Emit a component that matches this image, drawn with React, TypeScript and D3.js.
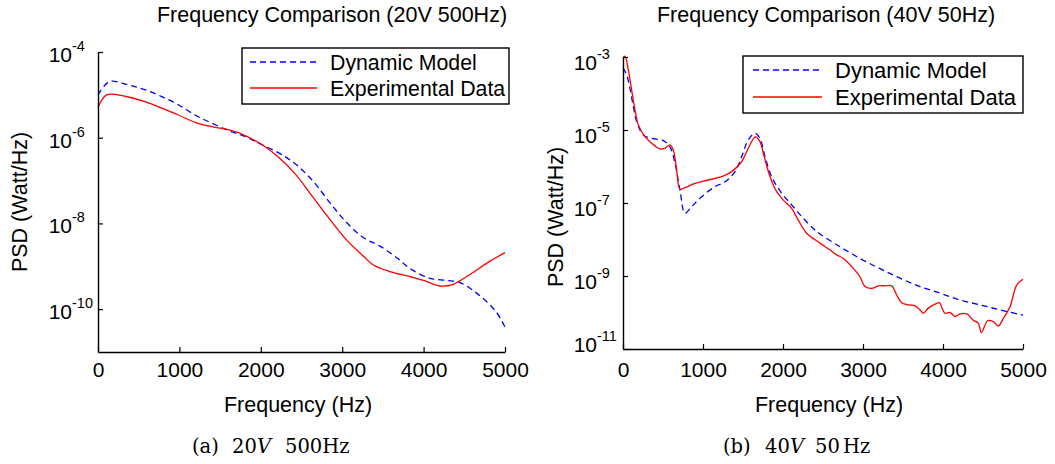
import React, { useEffect, useRef } from "react";
import * as d3 from "d3";

// ---------- data (frequency in Hz, PSD as log10 of Watt/Hz) ----------
const freqTicks = [0, 1000, 2000, 3000, 4000, 5000];
const leftYTickExp = [-4, -6, -8, -10];
const rightYTickExp = [-3, -5, -7, -9, -11];

const leftModelFreq = [0, 140, 372, 577, 783, 986, 1192, 1397, 1600, 1806, 2011, 2225, 2430, 2645, 2850, 3055, 3259, 3464, 3670, 3840, 4079, 4284, 4447, 4693, 4898, 5000];
const leftModelLog = [-5.0, -4.69, -4.77, -4.88, -5.04, -5.23, -5.47, -5.66, -5.83, -5.97, -6.16, -6.36, -6.62, -7.02, -7.52, -7.98, -8.33, -8.53, -8.8, -9.06, -9.28, -9.33, -9.38, -9.69, -10.08, -10.42];

const leftExpFreq = [0, 107, 372, 577, 783, 986, 1192, 1397, 1600, 1724, 2011, 2215, 2430, 2645, 2850, 3070, 3259, 3382, 3600, 3850, 4000, 4201, 4365, 4570, 4816, 5000];
const leftExpLog = [-5.29, -5.0, -5.05, -5.16, -5.31, -5.47, -5.64, -5.74, -5.81, -5.88, -6.16, -6.45, -6.86, -7.4, -7.91, -8.42, -8.76, -8.97, -9.13, -9.25, -9.33, -9.46, -9.42, -9.19, -8.88, -8.68];

const rightModelFreq = [0, 46, 87, 129, 171, 254, 358, 504, 587, 650, 712, 775, 858, 983, 1150, 1275, 1400, 1483, 1566, 1650, 1712, 1775, 1858, 1983, 2108, 2233, 2379, 2463, 2713, 2963, 3213, 3463, 3713, 3963, 4213, 4463, 4713, 5000];
const rightModelLog = [-3.3, -3.49, -3.86, -4.36, -4.77, -5.14, -5.23, -5.29, -5.46, -5.91, -6.64, -7.28, -7.1, -6.83, -6.55, -6.42, -6.14, -5.73, -5.27, -5.09, -5.23, -5.73, -6.28, -6.73, -7.05, -7.37, -7.7, -7.85, -8.2, -8.52, -8.8, -9.06, -9.29, -9.47, -9.66, -9.79, -9.93, -10.07];

const rightExpFreq = [0, 25, 67, 108, 150, 192, 275, 358, 462, 525, 587, 629, 671, 712, 775, 900, 1066, 1233, 1358, 1483, 1566, 1655, 1712, 1754, 1838, 1921, 2004, 2108, 2191, 2296, 2462, 2588, 2671, 2754, 2879, 2963, 3025, 3108, 3192, 3275, 3358, 3421, 3483, 3567, 3650, 3713, 3754, 3817, 3921, 3954, 4025, 4088, 4150, 4213, 4296, 4379, 4442, 4480, 4560, 4629, 4692, 4754, 4838, 4921, 5000];
const rightExpLog = [-3.02, -2.98, -3.36, -3.9, -4.45, -4.86, -5.18, -5.36, -5.52, -5.5, -5.41, -5.55, -6.1, -6.62, -6.58, -6.46, -6.37, -6.28, -6.14, -5.87, -5.5, -5.19, -5.32, -5.64, -6.28, -6.69, -6.92, -7.15, -7.47, -7.83, -8.1, -8.29, -8.42, -8.52, -8.79, -9.02, -9.29, -9.34, -9.27, -9.27, -9.27, -9.52, -9.73, -9.79, -9.82, -9.93, -10.02, -9.88, -9.75, -9.73, -10.02, -10.0, -10.11, -10.04, -10.04, -10.21, -10.3, -10.55, -10.22, -10.25, -10.37, -10.16, -9.84, -9.25, -9.09];

const seriesNames = ["Dynamic Model", "Experimental Data"];
const titles = ["Frequency Comparison (20V 500Hz)", "Frequency Comparison (40V 50Hz)"];

const SANS = "'Liberation Sans', Arial, Helvetica, sans-serif";
const SERIF = "'DejaVu Serif', serif";
const BLUE = "#0000ff";
const RED = "#ff0000";

type Panel = {
  x0: number; x1: number; yTop: number; yBot: number;
  expMin: number; expMax: number; yTicks: number[];
  mF: number[]; mV: number[]; eF: number[]; eV: number[];
  title: string; titleX: number; titleY: number;
  xPad: number; labOff: number; bottomLabOff: number;
  yLabelX: number; yLabelY: number; xLabelX: number;
  legend: { x: number; y: number; w: number; h: number; lx0: number; lx1: number; tx: number; r1: number; r2: number; fs: number };
};

function drawPanel(svg: d3.Selection<SVGSVGElement, unknown, null, undefined>, p: Panel) {
  const x = d3.scaleLinear().domain([0, 5000]).range([p.x0, p.x1]);
  const y = d3.scaleLog().domain([Math.pow(10, p.expMin), Math.pow(10, p.expMax)]).range([p.yBot, p.yTop]);
  const g = svg.append("g");
  const line = d3
    .line<[number, number]>()
    .x((d) => x(d[0]))
    .y((d) => y(Math.pow(10, d[1])))
    .curve(d3.curveCatmullRom.alpha(0.5));

  g.append("path")
    .attr("d", line(d3.zip(p.mF, p.mV) as [number, number][]) || "")
    .attr("fill", "none").attr("stroke", BLUE).attr("stroke-width", 1.3)
    .attr("stroke-dasharray", "6,4");
  g.append("path")
    .attr("d", line(d3.zip(p.eF, p.eV) as [number, number][]) || "")
    .attr("fill", "none").attr("stroke", RED).attr("stroke-width", 1.3);

  // x axis
  const xa = g.append("g")
    .attr("transform", `translate(0,${p.yBot})`)
    .call(d3.axisBottom(x).tickValues(freqTicks).tickSizeInner(-5).tickSizeOuter(0).tickPadding(p.xPad).tickFormat(d3.format("d")));
  xa.select(".domain").attr("stroke", "#000").attr("stroke-width", 1.4);
  xa.selectAll(".tick line").attr("stroke", "#000").attr("stroke-width", 1.2);
  xa.selectAll(".tick text").attr("font-family", SANS).attr("font-size", 21).attr("fill", "#000");

  // y axis
  const ya = g.append("g")
    .attr("transform", `translate(${p.x0},0)`)
    .call(d3.axisLeft(y).tickValues(p.yTicks.map((e) => Math.pow(10, e))).tickSizeInner(-5).tickSizeOuter(0).tickFormat(() => ""));
  ya.select(".domain").attr("stroke", "#000").attr("stroke-width", 1.4);
  ya.selectAll(".tick line").attr("stroke", "#000").attr("stroke-width", 1.2);

  p.yTicks.forEach((e) => {
    const ty = y(Math.pow(10, e));
    const off = e === p.expMin ? p.bottomLabOff : p.labOff;
    const bx = p.x0 - 26;
    g.append("text").attr("x", bx).attr("y", ty + off).attr("text-anchor", "end")
      .attr("font-family", SANS).attr("font-size", 21).text("10");
    g.append("text").attr("x", bx).attr("y", ty + off - 11).attr("text-anchor", "start")
      .attr("font-family", SANS).attr("font-size", 14.5).text(String(e));
  });

  // labels
  g.append("text").attr("x", p.titleX).attr("y", p.titleY).attr("text-anchor", "middle")
    .attr("font-family", SANS).attr("font-size", 21.5).text(p.title);
  g.append("text").attr("x", p.xLabelX).attr("y", 412).attr("text-anchor", "middle")
    .attr("font-family", SANS).attr("font-size", 21.5).text("Frequency (Hz)");
  g.append("text")
    .attr("transform", `translate(${p.yLabelX},${p.yLabelY}) rotate(-90)`)
    .attr("text-anchor", "middle")
    .attr("font-family", SANS).attr("font-size", 21.5).text("PSD (Watt/Hz)");

  // legend
  const L = p.legend;
  const lg = g.append("g");
  lg.append("rect").attr("x", L.x).attr("y", L.y).attr("width", L.w).attr("height", L.h)
    .attr("fill", "#fff").attr("stroke", "#000").attr("stroke-width", 1.4);
  lg.append("line").attr("x1", L.lx0).attr("x2", L.lx1).attr("y1", L.r1).attr("y2", L.r1)
    .attr("stroke", BLUE).attr("stroke-width", 1.3).attr("stroke-dasharray", "6,4");
  lg.append("line").attr("x1", L.lx0).attr("x2", L.lx1).attr("y1", L.r2).attr("y2", L.r2)
    .attr("stroke", RED).attr("stroke-width", 1.3);
  lg.append("text").attr("x", L.tx).attr("y", L.r1 + 7.5).attr("font-family", SANS).attr("font-size", L.fs).text(seriesNames[0]);
  lg.append("text").attr("x", L.tx).attr("y", L.r2 + 7.5).attr("font-family", SANS).attr("font-size", L.fs).text(seriesNames[1]);
}

export default function App() {
  const ref = useRef<SVGSVGElement | null>(null);
  useEffect(() => {
    if (!ref.current) return;
    const svg = d3.select(ref.current);
    svg.selectAll("*").remove();

    drawPanel(svg, {
      x0: 98, x1: 505, yTop: 52, yBot: 352, expMin: -11, expMax: -4, yTicks: leftYTickExp,
      mF: leftModelFreq, mV: leftModelLog, eF: leftExpFreq, eV: leftExpLog,
      title: titles[0], titleX: 332, titleY: 22, xPad: 10, labOff: 10, bottomLabOff: 10,
      yLabelX: 27, yLabelY: 202, xLabelX: 298,
      legend: { x: 242, y: 48, w: 267, h: 56, lx0: 250, lx1: 317, tx: 330, r1: 62, r2: 88, fs: 21.3 },
    });
    drawPanel(svg, {
      x0: 623, x1: 1023, yTop: 57, yBot: 349, expMin: -11, expMax: -3, yTicks: rightYTickExp,
      mF: rightModelFreq, mV: rightModelLog, eF: rightExpFreq, eV: rightExpLog,
      title: titles[1], titleX: 826, titleY: 22, xPad: 13, labOff: 13, bottomLabOff: 3,
      yLabelX: 563, yLabelY: 217, xLabelX: 829,
      legend: { x: 743, y: 56, w: 280, h: 57, lx0: 753, lx1: 822, tx: 835, r1: 70, r2: 97, fs: 22 },
    });

    // captions
    const cap = (parts: { x: number; t: string; italic?: boolean }[]) => {
      const t = svg.append("text").attr("y", 453).attr("font-family", SERIF).attr("font-size", 19.5);
      parts.forEach((pt) => {
        t.append("tspan").attr("x", pt.x).attr("font-style", pt.italic ? "italic" : "normal").text(pt.t);
      });
    };
    cap([{ x: 192, t: "(a)" }, { x: 232, t: "20" }, { x: 257, t: "V", italic: true }, { x: 285, t: "500Hz" }]);
    cap([{ x: 723, t: "(b)" }, { x: 765, t: "40" }, { x: 790, t: "V", italic: true }, { x: 815, t: "50" }, { x: 843, t: "Hz" }]);
  }, []);

  return (
    <svg
      ref={ref}
      width={1055}
      height={464}
      style={{ position: "absolute", left: 0, top: 0, background: "#fff", display: "block" }}
    />
  );
}
